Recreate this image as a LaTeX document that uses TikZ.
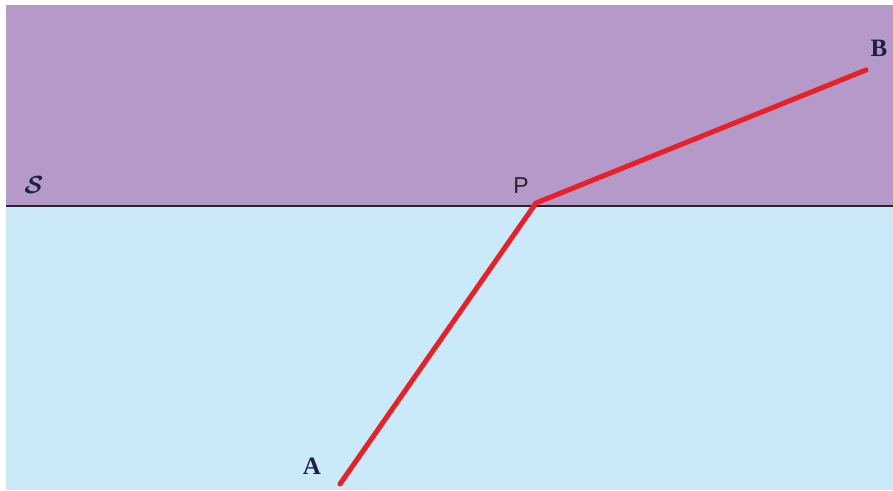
\documentclass[tikz,border=0pt]{standalone}
\usepackage{fontspec}
\usetikzlibrary{positioning}
\definecolor{medium_top}{RGB}{181,153,201}
\definecolor{medium_bottom}{RGB}{202,234,249}
\definecolor{ray_red}{RGB}{232,32,40}
\definecolor{label_dark}{RGB}{30,30,70}
\newfontfamily\sanslabel{Liberation Sans}
\newfontfamily\seriflabel{Liberation Serif}
\tikzset{
    medium/.style={draw=none},
    interface/.style={line width=1.8pt, black!85},
    ray/.style={ray_red, line width=5pt, line cap=round, line join=round},
    pointlabel/.style={font=\seriflabel\fontsize{25}{25}\selectfont\bfseries, text=label_dark, inner sep=0pt}
}
\begin{document}
\begin{tikzpicture}[x=1pt, y=-1pt]
    \useasboundingbox (0,0) rectangle (893,490);
    \fill[white] (0,0) rectangle (893,490);

    % --- Los dos medios ---
    \fill[medium, medium_top] (6,5) rectangle (893,206);
    \fill[medium, medium_bottom] (6,206) rectangle (893,490);

    % --- Superficie de separacion ---
    \coordinate (s_left) at (6,206);
    \coordinate (s_right) at (893,206);
    \draw[interface] (s_left) -- (s_right);

    % --- Puntos del camino ---
    \coordinate (A) at (340,484);
    \coordinate (P) at (536,203);
    \coordinate (B) at (866,70);
    \draw[ray] (A) -- (P) -- (B);

    % --- Etiquetas ---
    \node[font=\fontsize{26}{26}\selectfont\boldmath, text=label_dark, inner sep=0pt] (s_lab) at (34,185) {$\mathcal{S}$};
    \node[font=\sanslabel\fontsize{23}{23}\selectfont, text=black!85, inner sep=0pt] (p_lab) at (521,186) {P};
    \node[pointlabel] (b_lab) at (879,48) {B};
    \node[pointlabel] (a_lab) at (312,466) {A};
\end{tikzpicture}
\end{document}
